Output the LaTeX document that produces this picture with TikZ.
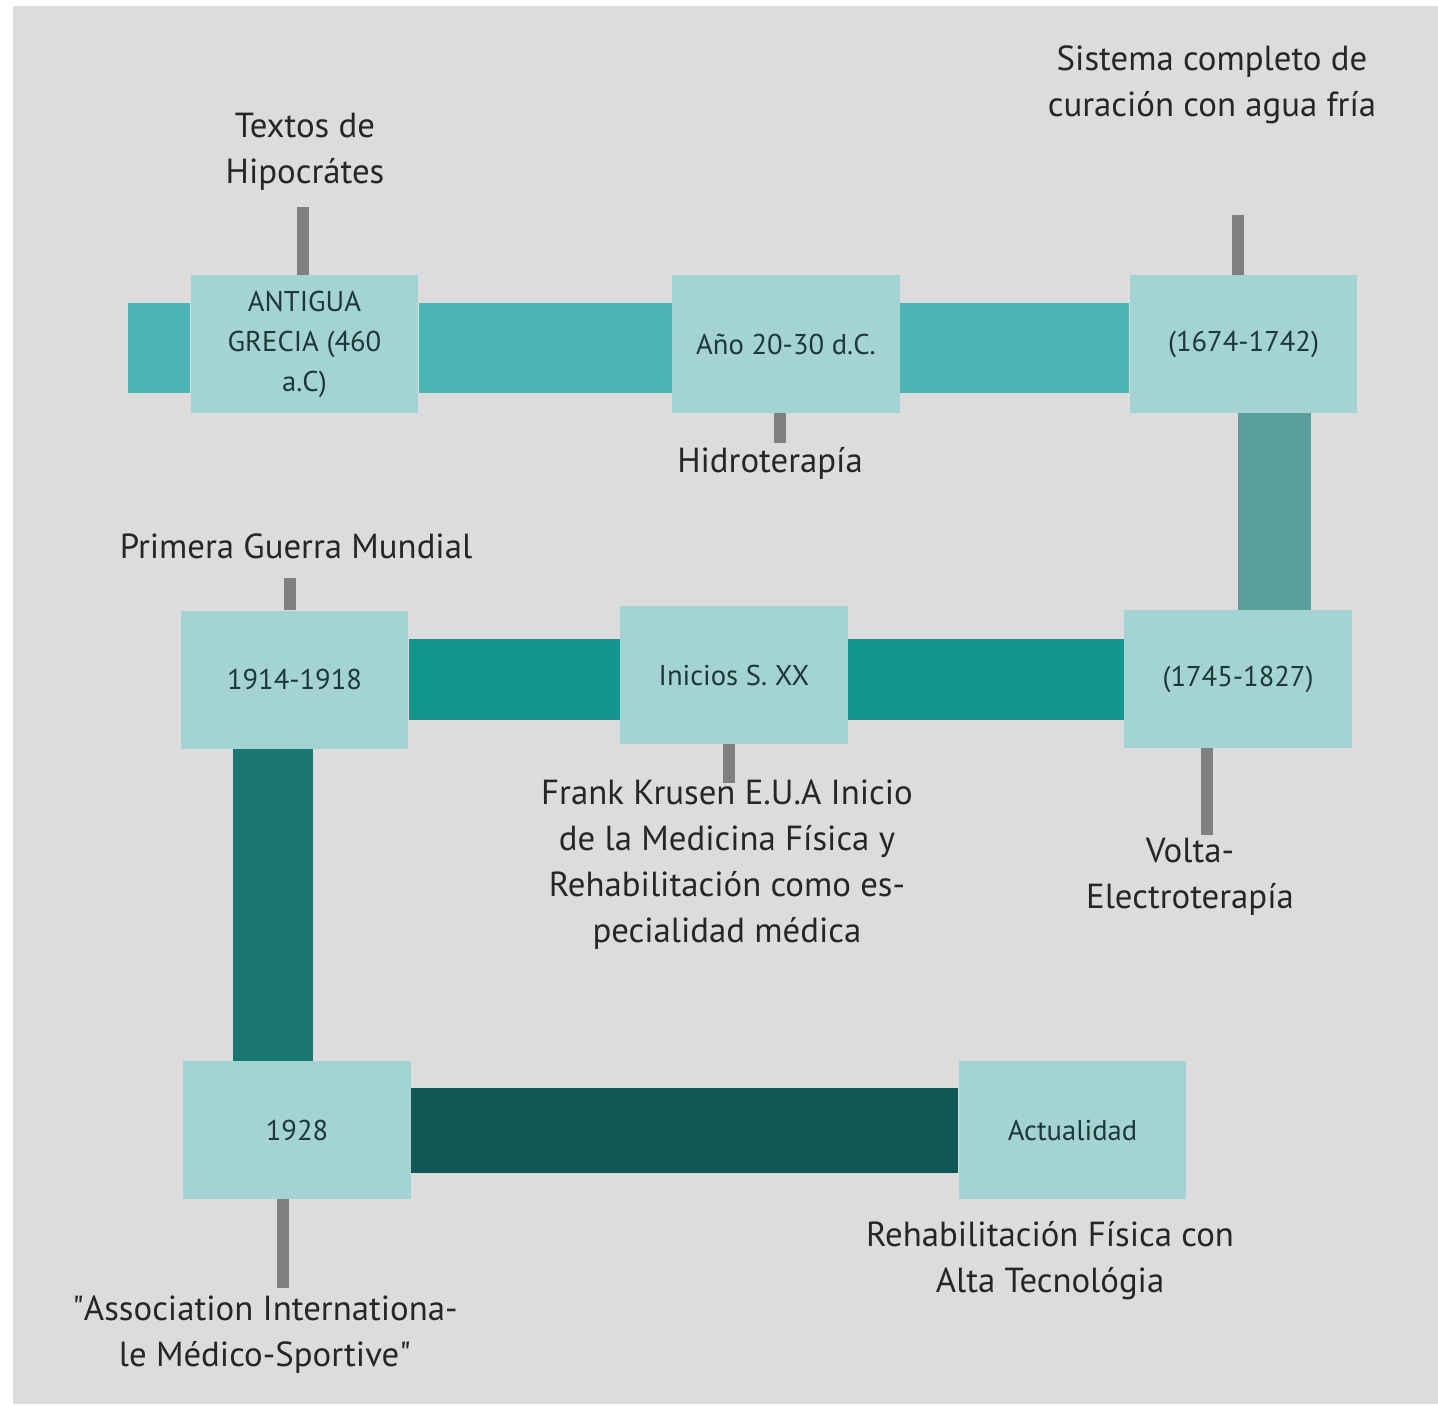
\documentclass[tikz,border=0pt]{standalone}
\usepackage{fontspec}
\setmainfont{PT Sans}
\definecolor{bggray}{HTML}{DCDCDC}
\definecolor{boxteal}{HTML}{A3D3D2}
\definecolor{boxtext}{HTML}{1E3838}
\definecolor{notetext}{HTML}{262626}
\definecolor{leadgray}{HTML}{808080}
\definecolor{barone}{HTML}{4BB5B5}
\definecolor{bartwo}{HTML}{5A9F9C}
\definecolor{barthree}{HTML}{14968F}
\definecolor{barfour}{HTML}{1A7771}
\definecolor{barfive}{HTML}{105755}

\begin{document}
\begin{tikzpicture}[x=0.5pt,y=-0.5pt,
    era/.style={fill=boxteal, minimum width=113.75pt, minimum height=69pt,
        inner sep=0pt, align=center, text=boxtext,
        font=\fontsize{14.3}{20}\selectfont},
    note/.style={align=center, inner sep=0pt, text=notetext,
        font=\fontsize{17.4}{23}\selectfont},
    leader/.style={draw=leadgray, line width=6pt}]
% page
\fill[white] (0,0) rectangle (1438,1404);
\fill[bggray] (13,6) rectangle (1438,1404);

% periods
\node [era] (A) at (304.5,344) {ANTIGUA\\GRECIA (460\\a.C)};
\node [era] (B) at (786,344) {Año 20-30 d.C.};
\node [era] (C) at (1243.5,344) {(1674-1742)};
\node [era] (D) at (294.5,679.5) {1914-1918};
\node [era] (E) at (734,675) {Inicios S. XX};
\node [era] (F) at (1238,679) {(1745-1827)};
\node [era] (G) at (297,1130) {1928};
\node [era] (H) at (1072.5,1130) {Actualidad};

% bars
\coordinate (start) at (128,348);
\coordinate (right-bar) at ([xshift=15.5pt]C.south);
\coordinate (left-bar) at ([xshift=-10.75pt]D.south);
\draw [barone, line width=45pt] (start) -- (start -| A.west)
    (A.east |- start) -- (start -| B.west) (B.east |- start) -- (start -| C.west);
\draw [bartwo, line width=36.5pt] (right-bar) -- (right-bar |- F.north);
\draw [barthree, line width=40.5pt] (D.east) -- (D.east -| E.west)
    (E.east |- D.east) -- (D.east -| F.west);
\draw [barfour, line width=40pt] (left-bar) -- (left-bar |- G.north);
\draw [barfive, line width=42.5pt] (G.east) -- (H.west);

% events
\node [note] (note-A) at (305,152) {Textos de\\Hipocrátes};
\node [note] (note-B) at (770,463) {Hidroterapía};
\node [note] (note-C) at (1212,85) {Sistema completo de\\curación con agua fría};
\node [note] (note-D) at (296,546) {Primera Guerra Mundial};
\node [note] (note-F) at (1190,877) {Volta-\\Electroterapía};
\node [note] (note-G) at (265,1335) {\textquotedbl Association Internationa-\\le Médico-Sportive\textquotedbl};
\node [note] (note-H) at (1050,1261) {Rehabilitación Física con\\Alta Tecnológia};

% leaders
\coordinate (tip-A) at (303,207);
\coordinate (tip-B) at (780,443);
\coordinate (tip-C) at (1237.5,215);
\coordinate (tip-D) at (289.5,578);
\coordinate (tip-E) at (729,783);
\coordinate (tip-F) at (1207,835);
\coordinate (tip-G) at (283,1288);
\draw [leader] (A.north -| tip-A) -- (tip-A);
\draw [leader] (B.south -| tip-B) -- (tip-B);
\draw [leader] (C.north -| tip-C) -- (tip-C);
\draw [leader] (D.north -| tip-D) -- (tip-D);
\draw [leader] (E.south -| tip-E) -- (tip-E);
\draw [leader] (F.south -| tip-F) -- (tip-F);
\draw [leader] (G.south -| tip-G) -- (tip-G);

\node [note] (note-E) at (727,865) {Frank Krusen E.U.A Inicio\\de la Medicina Física y\\Rehabilitación como es-\\pecialidad médica};
\end{tikzpicture}
\end{document}
